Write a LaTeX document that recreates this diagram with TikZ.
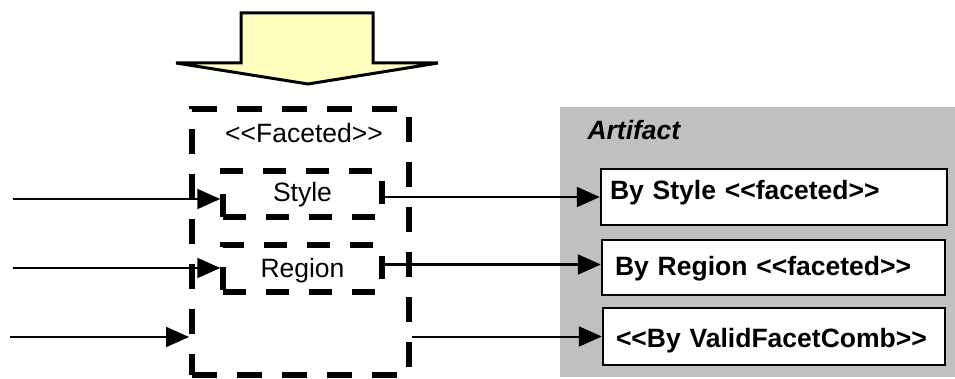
\documentclass[tikz,border=0pt]{standalone}
\usepackage{fontspec}
\setmainfont{Liberation Sans}
\usetikzlibrary{arrows.meta}
\definecolor{arrowfill}{RGB}{255,255,192}
\definecolor{panelgray}{RGB}{192,192,192}
\tikzset{
  txt/.style={font=\fontsize{26.5}{31}\selectfont},
  facetbox/.style={draw, line width=5.5pt, dash pattern=on 23pt off 20pt, inner sep=0pt,
    text depth=0pt, txt},
  outerbox/.style={draw, line width=6pt, dash pattern=on 25pt off 20pt, inner sep=0pt},
  classbox/.style={draw, line width=2.4pt, fill=white, inner ysep=0pt, align=left,
    font=\fontsize{26.5}{31}\selectfont\bfseries},
  % baseline lies #1 below the box centre
  textdrop/.style={text height=12pt+#1, text depth=12pt-#1},
  arr/.style={line width=2pt, -{Triangle[length=23pt,width=20pt]}},
}
\begin{document}
\begin{tikzpicture}[x=1pt,y=-1pt]
\useasboundingbox (0,0) rectangle (955,379);

% block arrow pointing down into the faceted group
\draw[line width=3pt, fill=arrowfill, line join=miter]
  (241,13) -- (373,13) -- (373,63) -- (438,63) -- (308,84) -- (176,63) -- (241,63) -- cycle;

% dashed group with its two facets
\node[outerbox, minimum width=217pt, minimum height=266pt] (outer) at (300.5,242) {};
\node[txt] (facetedlbl) at (304,133) {<{}<Faceted>{}>};
\node[facetbox, minimum width=159pt, minimum height=46pt, text height=16pt] (style) at (302.5,194) {Style};
\node[facetbox, minimum width=159pt, minimum height=47pt, text height=17pt] (region) at (302.5,268.5) {Region};

% artifact panel
\fill[panelgray] (560,107) rectangle (955,377);
\node[anchor=base west, font=\fontsize{26.5}{31}\selectfont\bfseries\itshape] (artifact) at (584,140) {Artifact};
\node[classbox, textdrop=3pt, minimum width=346pt, minimum height=56pt, inner xsep=9pt, text width=328pt] (bystyle) at (774,197) {By Style <{}<faceted>{}>};
\node[classbox, textdrop=7.5pt, minimum width=343pt, minimum height=55pt, inner xsep=13pt, text width=317pt] (byregion) at (773.5,267.5) {By Region <{}<faceted>{}>};
\node[classbox, textdrop=10.5pt, minimum width=342pt, minimum height=57pt, inner xsep=13pt, text width=316pt] (valid) at (774,336.5) {<{}<By ValidFacetComb>{}>};

% incoming connectors
\coordinate (in1) at (13,199);
\coordinate (in2) at (13,268);
\coordinate (in3) at (10,337);
\draw[arr] (in1) -- (style.west |- in1);
\draw[arr] (in2) -- (region.west |- in2);
\draw[arr] (in3) -- (outer.west |- in3);

% outgoing connectors
\draw[arr] (style.east |- bystyle.west) -- (bystyle.west);
\draw[arr] ([yshift=3pt]region.east |- byregion.west) -- ([yshift=3pt]byregion.west);
\draw[arr] (outer.east |- valid.west) -- (valid.west);
\end{tikzpicture}
\end{document}
